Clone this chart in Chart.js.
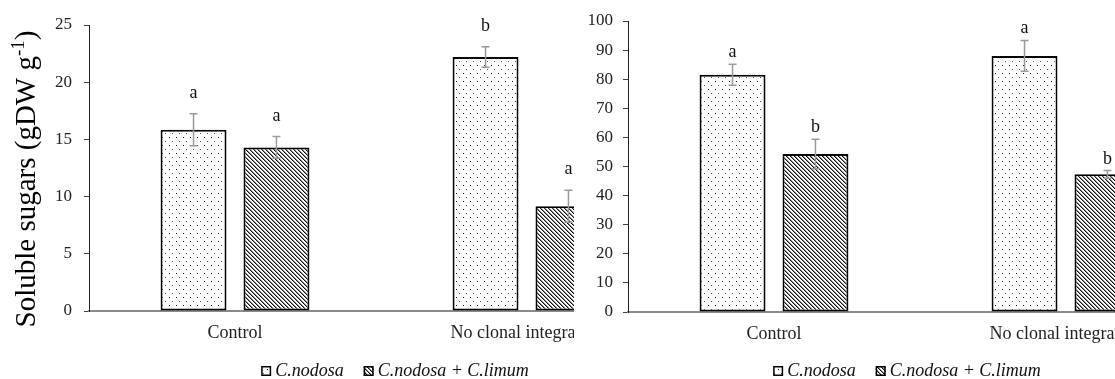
<!DOCTYPE html>
<html><head><meta charset="utf-8">
<script src="https://cdn.jsdelivr.net/npm/chart.js@4.4.0/dist/chart.umd.min.js"></script>
<style>
html,body{margin:0;padding:0;background:#fff;width:1115px;height:379px;overflow:hidden;}
#leftWrap{position:absolute;left:0;top:0;width:574px;height:379px;overflow:hidden;}
#rightWrap{position:absolute;left:574px;top:0;width:541px;height:379px;overflow:hidden;}
canvas{position:absolute;left:0;top:0;}
</style></head><body>
<div id="leftWrap"><canvas id="c1" width="790" height="379"></canvas></div>
<div id="rightWrap"><canvas id="c2" width="666" height="379"></canvas></div>
<script>
// ---- data ----
const categories = ['Control', 'No clonal integration'];
const seriesNames = ['C.nodosa', 'C.nodosa + C.limum'];

// left panel: soluble sugars
const sugarNodosa = [15.85, 22.2];
const sugarNodosaErr = [1.4, 0.9];
const sugarNodosaLetters = ['a', 'b'];
const sugarLimum = [14.3, 9.15];
const sugarLimumErr = [0.95, 1.4];
const sugarLimumLetters = ['a', 'a'];
const sugarAxisMax = 25, sugarAxisStep = 5;
const sugarTitle = 'Soluble sugars (gDW g', sugarTitleSup = '-1', sugarTitleEnd = ')';

// right panel
const rightNodosa = [81.5, 88.0];
const rightNodosaErr = [3.6, 5.3];
const rightNodosaLetters = ['a', 'a'];
const rightLimum = [54.3, 47.3];
const rightLimumErr = [5.1, 1.3];
const rightLimumLetters = ['b', 'b'];
const rightAxisMax = 100, rightAxisStep = 10;

// ---- patterns ----
function dotPattern() {
  const c = document.createElement('canvas'); c.width = 7; c.height = 8;
  const g = c.getContext('2d');
  g.fillStyle = '#fff'; g.fillRect(0, 0, 7, 8);
  g.fillStyle = '#111'; g.fillRect(1, 1, 1, 1);
  g.fillStyle = '#555'; g.fillRect(4, 5, 1, 1);
  return g.createPattern(c, 'repeat');
}
function hatchPattern() {
  const c = document.createElement('canvas'); c.width = 4; c.height = 4;
  const g = c.getContext('2d');
  g.fillStyle = '#fff'; g.fillRect(0, 0, 4, 4);
  for (let i = 0; i < 4; i++) {
    g.fillStyle = '#111'; g.fillRect(i, i, 1, 1);
    g.fillStyle = '#8a8a8a'; g.fillRect((i + 1) % 4, i, 1, 1);
  }
  return g.createPattern(c, 'repeat');
}
const PAT_DOT = dotPattern(), PAT_HATCH = hatchPattern();
const SERIF = '"Liberation Serif", "Times New Roman", serif';

function annotPlugin(opts) {
  return {
    id: 'annot',
    afterDatasetsDraw(chart) {
      const ctx = chart.ctx, y = chart.scales.y;
      ctx.save();
      chart.data.datasets.forEach((ds, di) => {
        chart.getDatasetMeta(di).data.forEach((bar, i) => {
          const v = ds.data[i], e = ds.errors[i];
          const top = y.getPixelForValue(v + e), bot = y.getPixelForValue(v - e);
          ctx.strokeStyle = '#9a9a9a'; ctx.lineWidth = 1.5;
          ctx.beginPath();
          ctx.moveTo(bar.x, top); ctx.lineTo(bar.x, bot);
          ctx.moveTo(bar.x - 4, top); ctx.lineTo(bar.x + 4, top);
          ctx.moveTo(bar.x - 4, bot); ctx.lineTo(bar.x + 4, bot);
          ctx.stroke();
          ctx.fillStyle = '#111'; ctx.font = '18px ' + SERIF;
          ctx.textAlign = 'center'; ctx.textBaseline = 'alphabetic';
          ctx.fillText(ds.letters[i], bar.x, top - opts.letterGap);
        });
      });
      ctx.restore();
    },
    afterDraw(chart) {
      const ctx = chart.ctx;
      ctx.save();
      // legend
      ctx.font = 'italic 18px ' + SERIF;
      const box = 10, gapBT = 4, gapItems = 20;
      const items = chart.data.datasets.map(ds => ({ ds, w: ctx.measureText(ds.label).width }));
      let total = 0;
      items.forEach((it, k) => { total += box + gapBT + it.w + (k < items.length - 1 ? gapItems : 0); });
      let x = chart.width / 2 - total / 2;
      const yc = 371;
      items.forEach(it => {
        ctx.fillStyle = it.ds.backgroundColor;
        ctx.fillRect(x, yc - box / 2, box, box);
        ctx.strokeStyle = '#000'; ctx.lineWidth = 1.5;
        ctx.strokeRect(x + 0.75, yc - box / 2 + 0.75, box - 1.5, box - 1.5);
        ctx.fillStyle = '#111'; ctx.textAlign = 'left'; ctx.textBaseline = 'middle';
        ctx.fillText(it.ds.label, x + box + gapBT, yc);
        x += box + gapBT + it.w + gapItems;
      });
      // y title
      if (opts.title) {
        const big = '29px ' + SERIF, small = '19px ' + SERIF;
        ctx.font = big; const w1 = ctx.measureText(opts.title[0]).width, w3 = ctx.measureText(opts.title[2]).width;
        ctx.font = small; const w2 = ctx.measureText(opts.title[1]).width;
        const W = w1 + w2 + w3;
        ctx.translate(25, 179); ctx.rotate(-Math.PI / 2);
        ctx.fillStyle = '#000'; ctx.textAlign = 'left'; ctx.textBaseline = 'alphabetic';
        let tx = -W / 2;
        ctx.font = big; ctx.fillText(opts.title[0], tx, 10); tx += w1;
        ctx.font = small; ctx.fillText(opts.title[1], tx, -1); tx += w2;
        ctx.font = big; ctx.fillText(opts.title[2], tx, 10);
      }
      ctx.restore();
    }
  };
}

function makeChart(id, cfg) {
  return new Chart(document.getElementById(id), {
    type: 'bar',
    data: {
      labels: categories,
      datasets: [
        { label: seriesNames[0], data: cfg.a, errors: cfg.aErr, letters: cfg.aLet,
          backgroundColor: PAT_DOT, borderColor: '#000', borderWidth: 2, borderSkipped: false },
        { label: seriesNames[1], data: cfg.b, errors: cfg.bErr, letters: cfg.bLet,
          backgroundColor: PAT_HATCH, borderColor: '#000', borderWidth: 2, borderSkipped: false }
      ]
    },
    options: {
      responsive: false, animation: false,
      devicePixelRatio: 1,
      categoryPercentage: 0.568, barPercentage: 0.795,
      layout: { padding: cfg.padding },
      plugins: { legend: { display: false }, tooltip: { enabled: false } },
      scales: {
        x: {
          grid: { display: false, drawTicks: false },
          border: { display: true, color: '#8a8a8a', width: 2 },
          ticks: { color: '#222', font: { family: SERIF, size: 18 }, padding: 11, maxRotation: 0, autoSkip: false },
          afterFit: s => { s.height = cfg.xHeight; }
        },
        y: {
          min: 0, max: cfg.max,
          grid: { drawOnChartArea: false, drawTicks: true, tickLength: 5, color: '#444' },
          border: { color: '#222', width: 1 },
          ticks: { stepSize: cfg.step, color: '#222', font: { family: SERIF, size: 17 }, padding: cfg.tickPad },
          afterFit: s => { s.width = cfg.yWidth; }
        }
      }
    },
    plugins: [annotPlugin({ letterGap: cfg.letterGap, title: cfg.title })]
  });
}

makeChart('c1', {
  a: sugarNodosa, aErr: sugarNodosaErr, aLet: sugarNodosaLetters,
  b: sugarLimum, bErr: sugarLimumErr, bLet: sugarLimumLetters,
  max: sugarAxisMax, step: sugarAxisStep,
  padding: { left: 0, right: 117, top: 25, bottom: 0 },
  xHeight: 68, yWidth: 89, tickPad: 12, letterGap: 16,
  title: [sugarTitle, sugarTitleSup, sugarTitleEnd]
});
makeChart('c2', {
  a: rightNodosa, aErr: rightNodosaErr, aLet: rightNodosaLetters,
  b: rightLimum, bErr: rightLimumErr, bLet: rightLimumLetters,
  max: rightAxisMax, step: rightAxisStep,
  padding: { left: 0, right: 28, top: 21, bottom: 0 },
  xHeight: 67, yWidth: 54, tickPad: 10, letterGap: 7,
  title: null
});
</script>
</body></html>
